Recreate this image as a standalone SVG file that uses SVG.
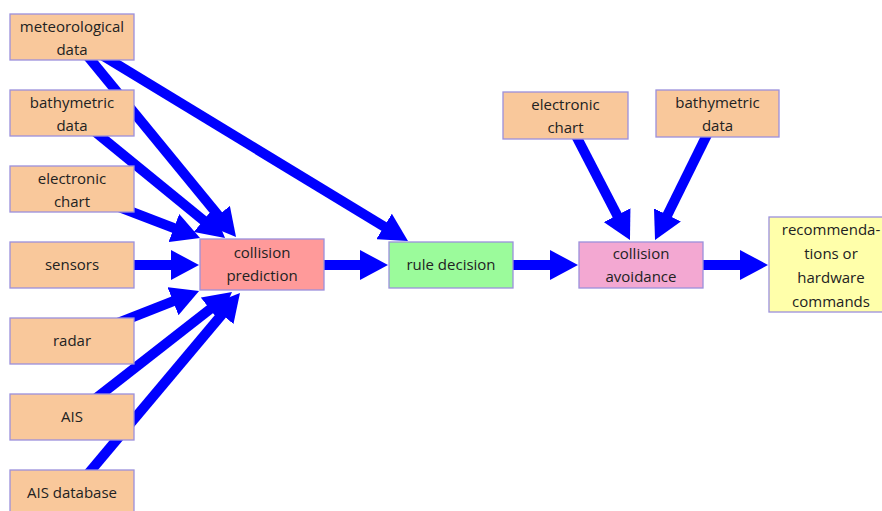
<svg xmlns="http://www.w3.org/2000/svg" width="882" height="511" viewBox="0 0 882 511">
<defs>
<marker id="ah" markerUnits="userSpaceOnUse" markerWidth="28" markerHeight="30" refX="10" refY="15" orient="auto" viewBox="0 0 28 30">
<path d="M0,0 L28,15 L0,30 z" fill="#0000FF"/>
</marker>
<style>
.box{stroke:#9B90DC;stroke-width:1.3}
.src{fill:#F9C89B}
.cp{fill:#FF9A9A}
.rd{fill:#9BFB9B}
.ca{fill:#F3A8D2}
.rec{fill:#FFFFAA}
.c line{stroke:#0000FF;stroke-width:10;marker-end:url(#ah)}
text{font-family:"Open Sans","Liberation Sans",sans-serif;font-size:15px;fill:#222;text-anchor:middle}
</style>
</defs>
<rect width="882" height="511" fill="#fff"/>
<g id="connectors" class="c">
<line x1="72" y1="37" x2="224.6" y2="223.1"/>
<line x1="72" y1="37" x2="392.6" y2="231.7"/>
<line x1="72" y1="113" x2="211.1" y2="226.6"/>
<line x1="72" y1="189" x2="183.2" y2="231.6"/>
<line x1="72" y1="265" x2="181" y2="265"/>
<line x1="72" y1="341" x2="182.3" y2="297.6"/>
<line x1="72" y1="417" x2="217.8" y2="303.1"/>
<line x1="72" y1="493" x2="228.4" y2="306.8"/>
<line x1="300" y1="265" x2="370" y2="265"/>
<line x1="480" y1="265" x2="560" y2="265"/>
<line x1="680" y1="265" x2="750" y2="265"/>
<line x1="565.5" y1="115.5" x2="621.7" y2="224"/>
<line x1="717.5" y1="113.5" x2="663" y2="223.9"/>
</g>
<g id="meteorological"><rect class="box src" x="10" y="14" width="124" height="46"/><text x="72" y="32">meteorological</text><text x="72" y="55">data</text></g>
<g id="bathymetric1"><rect class="box src" x="10" y="90" width="124" height="46"/><text x="72" y="108">bathymetric</text><text x="72" y="131">data</text></g>
<g id="electronic1"><rect class="box src" x="10" y="166" width="124" height="46"/><text x="72" y="184">electronic</text><text x="72" y="207">chart</text></g>
<g id="sensors"><rect class="box src" x="10" y="242" width="124" height="46"/><text x="72" y="270">sensors</text></g>
<g id="radar"><rect class="box src" x="10" y="318" width="124" height="46"/><text x="72" y="346">radar</text></g>
<g id="ais"><rect class="box src" x="10" y="394" width="124" height="46"/><text x="72" y="422">AIS</text></g>
<g id="aisdb"><rect class="box src" x="10" y="470" width="124" height="46"/><text x="72" y="498">AIS database</text></g>
<g id="collision-prediction"><rect class="box cp" x="200" y="239" width="124" height="51"/><text x="262" y="258">collision</text><text x="262" y="281">prediction</text></g>
<g id="rule-decision"><rect class="box rd" x="389" y="242" width="124" height="46"/><text x="451" y="270">rule decision</text></g>
<g id="electronic2"><rect class="box src" x="503" y="92" width="125" height="47"/><text x="565.5" y="110">electronic</text><text x="565.5" y="133">chart</text></g>
<g id="bathymetric2"><rect class="box src" x="656" y="90" width="123" height="47"/><text x="717.5" y="108">bathymetric</text><text x="717.5" y="131">data</text></g>
<g id="collision-avoidance"><rect class="box ca" x="579" y="242" width="124" height="46"/><text x="641" y="259">collision</text><text x="641" y="282">avoidance</text></g>
<g id="recommendations"><rect class="box rec" x="769" y="217" width="120" height="95"/><text x="831" y="235">recommenda-</text><text x="831" y="259">tions or</text><text x="831" y="283">hardware</text><text x="831" y="307">commands</text></g>
</svg>
